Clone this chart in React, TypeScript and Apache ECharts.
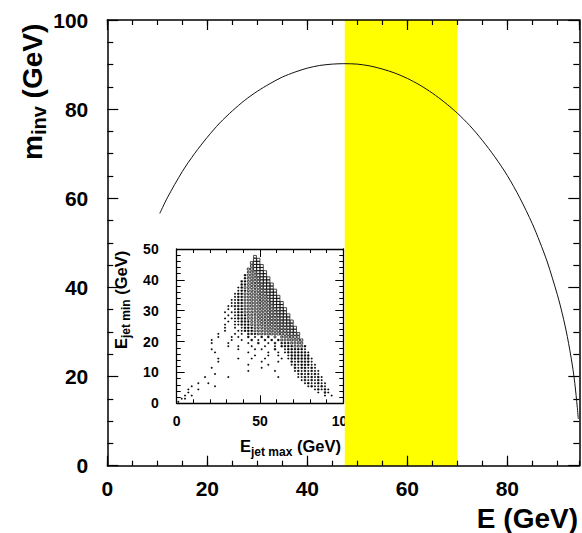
import React, { useEffect, useRef } from 'react';
import * as echarts from 'echarts';

// ---- Main plot: invariant mass vs energy ----
const CURVE_E = [10.5, 12, 15, 17.5, 20, 22.5, 25, 27.5, 30, 32.5, 35, 37.5, 40, 42.5, 45, 47.3, 50, 52.5, 55, 57.5, 60, 62.5, 65, 67.5, 70, 72.5, 75, 77.5, 80, 82.5, 85, 86.5, 88, 90, 91, 92, 93, 93.5, 94, 94.2];
const CURVE_M = [56.6, 60.1, 66.0, 70.1, 73.7, 76.9, 79.6, 82.0, 84.0, 85.7, 87.2, 88.3, 89.2, 89.8, 90.1, 90.2, 90.1, 89.7, 89.0, 88.1, 86.9, 85.4, 83.6, 81.5, 79.1, 76.3, 73.0, 69.3, 65.1, 60.1, 54.3, 50.2, 45.7, 38.4, 34.1, 29.0, 22.6, 18.5, 13.1, 10.5];
const BAND = [47.5, 70];
const MAIN_X_RANGE = [0, 94.4];
const MAIN_Y_RANGE = [0, 100];

// ---- Inset: 2D histogram E_jet min vs E_jet max ----
// rows: [E_jet min bin (1 GeV), first E_jet max bin (2 GeV), intensity per bin ('.' = empty)]
const HIST_ROWS: [number, number, string][] = [
  [47, 23, '7'],
  [46, 23, '89'],
  [45, 22, '699'],
  [44, 22, '5899'],
  [43, 21, '45899'],
  [42, 21, '345899'],
  [41, 20, '2445899'],
  [40, 20, '23455899'],
  [39, 19, '223455899'],
  [38, 19, '2234455899'],
  [37, 18, '12334455899'],
  [36, 18, '122334456899'],
  [35, 17, '1223344556899'],
  [34, 17, '12233444556899'],
  [33, 16, '112233445556899'],
  [32, 16, '1122334445566899'],
  [31, 15, '11222334445556899'],
  [30, 15, '1.1223334445556889'],
  [29, 14, '1.11223334445556788'],
  [28, 14, '.1.12223334445566889'],
  [27, 13, '.1.112223334445556788'],
  [26, 13, '..1.112223334445566889'],
  [25, 12, '..1..112223334445566788'],
  [24, 12, '..1..1.12223334445566788'],
  [23, 11, '...1...112223334445566778'],
  [22, 11, '.1....1.1.2223334445566777'],
  [21, 10, '..1...1.1..' + '2.1.2.2.3.3' + '45566'],
  [20, 10, '1.....1..1.' + '.2.1.2.2.23' + '334455'],
  [19, 9, '.1....1.....' + '1..2..1.2.2' + '223334'],
  [18, 9, '......1..1..' + '.1...1..1.2' + '2223332'],
  [17, 8, '..1.......1..' + '..1.1...2..' + '1222221'],
  [16, 8, '...1.........' + '1.....1..1.' + '12222221'],
  [15, 7, '..............' + '..1...1..1.' + '.1222222'],
  [14, 7, '.....1.....1..' + '.1...1....1' + '.12222221'],
  [13, 6, '......1........' + '....1....1.' + '..2122221'],
  [12, 6, '...............' + '1.....1....' + '..12122211'],
  [11, 5, '.....1..........' + '....1......' + '...2122121'],
  [10, 5, '................' + '1.......1..' + '...12121211'],
  [9, 4, '.......1.........' + '...........' + '....1212121'],
  [8, 4, '....1......1.....' + '.........1.' + '....11212121'],
  [7, 3, '..................' + '...........' + '.....1212121'],
  [6, 3, '...1..1...........' + '...........' + '......1211211'],
  [5, 2, '..1......1.........' + '...........' + '.......121121'],
  [4, 2, '.1..1..............' + '...........' + '.........12121'],
  [3, 1, '..1.................' + '...........' + '..........1.21'],
  [2, 1, '.1.1................' + '...........' + '............1.1'],
  [1, 0, '.11'],
  [0, 0, '1'],
];
const HIST_LEVELS = [1, 2, 3, 4, 5, 6, 7, 8, 9];
const INSET_X_RANGE = [0, 100];
const INSET_Y_RANGE = [0, 50];

const FONT = '"Liberation Sans", Arial, Helvetica, sans-serif';

// one path per intensity level: many small boxes drawn into a single shape
echarts.graphic.registerShape(
  'histBoxes',
  echarts.graphic.extendShape({
    shape: { boxes: [] as number[] },
    buildPath(ctx: any, shape: any) {
      const b = shape.boxes as number[];
      for (let i = 0; i < b.length; i += 4) ctx.rect(b[i], b[i + 1], b[i + 2], b[i + 3]);
    },
  }) as any
);

export default function App() {
  const ref = useRef<HTMLDivElement>(null);

  useEffect(() => {
    if (!ref.current) return;
    const chart = echarts.init(ref.current, null, { renderer: 'svg' });

    const curve = CURVE_E.map((e, i) => [e, CURVE_M[i]]);
    const hist: number[][] = [];
    HIST_ROWS.forEach(([yb, xs, s]) => {
      for (let k = 0; k < s.length; k++) {
        const ch = s[k];
        if (ch === '.') continue;
        hist.push([2 * (xs + k) + 1, yb + 0.5, Number(ch)]);
      }
    });

    const black = '#000';
    const mainLine = { show: true, onZero: false, lineStyle: { color: black, width: 1.5 } };
    const mainLabel = { color: black, fontFamily: FONT, fontWeight: 'bold' as const, fontSize: 21 };
    const insetLabel = { color: black, fontFamily: FONT, fontWeight: 'bold' as const, fontSize: 14 };
    const insetLine = { show: true, onZero: false, lineStyle: { color: black, width: 1.3 } };
    const tick = (len: number, w: number) => ({ show: true, inside: true, length: len, lineStyle: { color: black, width: w } });
    const minor = (n: number, len: number, w: number) => ({ show: true, splitNumber: n, length: len, lineStyle: { color: black, width: w } });
    const G = { left: 107.3, top: 20, width: 472, height: 445.7 };
    const I = { left: 176.7, top: 249, width: 166.6, height: 154.3 };

    const tok = (size: number, lh: number, padBottom: number) => ({
      fontFamily: FONT, fontWeight: 'bold', fontSize: size, lineHeight: lh, padding: [0, 0, padBottom, 0], verticalAlign: 'bottom', fill: black, color: black,
    });

    const option: any = {
      animation: false,
      backgroundColor: '#fff',
      title: [
        { text: 'E (GeV)', right: 4, top: 504, padding: 0, textStyle: { fontFamily: FONT, fontWeight: 'bold', fontSize: 28, lineHeight: 28, color: black } },
        {
          text: '{b|E}{s|jet max}{b| (GeV)}', left: 240, top: 440.7, padding: 0,
          textStyle: { rich: { b: tok(16.5, 17, 3), s: tok(12, 12, 0) } },
        },
      ],
      graphic: [
        {
          type: 'text', x: 35, y: 160, rotation: Math.PI / 2, z: 10,
          style: { text: '{b|m}{s|inv}{b| (GeV)}', textAlign: 'left', textVerticalAlign: 'middle', rich: { b: tok(28, 28, 3), s: tok(20, 20, 0) } },
        },
        {
          type: 'text', x: 123.8, y: 349, rotation: Math.PI / 2, z: 10,
          style: { text: '{b|E}{s|jet min}{b| (GeV)}', textAlign: 'left', textVerticalAlign: 'middle', rich: { b: tok(16.5, 17, 3), s: tok(12, 12, 0) } },
        },
      ],
      grid: [{ ...G, containLabel: false }, { ...G, containLabel: false }, { ...I, containLabel: false }],
      xAxis: [
        { gridIndex: 0, type: 'value', position: 'bottom', min: MAIN_X_RANGE[0], max: MAIN_X_RANGE[1], interval: 20, z: 4, axisLine: mainLine, axisTick: tick(10, 1.2), axisLabel: { ...mainLabel, margin: 12, showMaxLabel: false, formatter: (v: number) => (v % 20 === 0 ? String(v) : '') }, splitLine: { show: false } },
        { gridIndex: 0, type: 'value', position: 'top', min: MAIN_X_RANGE[0], max: MAIN_X_RANGE[1], interval: 20, z: 4, axisLine: mainLine, axisTick: tick(10, 1.2), axisLabel: { show: false }, splitLine: { show: false } },
        { gridIndex: 1, type: 'value', position: 'bottom', min: MAIN_X_RANGE[0], max: MAIN_X_RANGE[1], interval: 5, z: 4, axisLine: { show: false, onZero: false }, axisTick: tick(5, 1.2), axisLabel: { show: false }, splitLine: { show: false } },
        { gridIndex: 1, type: 'value', position: 'top', min: MAIN_X_RANGE[0], max: MAIN_X_RANGE[1], interval: 5, z: 4, axisLine: { show: false, onZero: false }, axisTick: tick(5, 1.2), axisLabel: { show: false }, splitLine: { show: false } },
        { gridIndex: 2, type: 'value', position: 'bottom', min: INSET_X_RANGE[0], max: INSET_X_RANGE[1], interval: 50, z: 1, axisLine: insetLine, axisTick: tick(8, 1), minorTick: minor(5, 4, 1), axisLabel: { ...insetLabel, margin: 11 }, splitLine: { show: false }, minorSplitLine: { show: false } },
        { gridIndex: 2, type: 'value', position: 'top', min: INSET_X_RANGE[0], max: INSET_X_RANGE[1], interval: 50, z: 1, axisLine: insetLine, axisTick: tick(8, 1), minorTick: minor(5, 4, 1), axisLabel: { show: false }, splitLine: { show: false }, minorSplitLine: { show: false } },
      ],
      yAxis: [
        { gridIndex: 0, type: 'value', position: 'left', min: MAIN_Y_RANGE[0], max: MAIN_Y_RANGE[1], interval: 20, z: 4, axisLine: mainLine, axisTick: tick(11, 1.2), minorTick: minor(4, 6, 1.2), axisLabel: { ...mainLabel, margin: 19 }, splitLine: { show: false }, minorSplitLine: { show: false } },
        { gridIndex: 0, type: 'value', position: 'right', min: MAIN_Y_RANGE[0], max: MAIN_Y_RANGE[1], interval: 20, z: 4, axisLine: mainLine, axisTick: tick(11, 1.2), minorTick: minor(4, 6, 1.2), axisLabel: { show: false }, splitLine: { show: false }, minorSplitLine: { show: false } },
        { gridIndex: 1, type: 'value', show: false, min: 0, max: 100 },
        { gridIndex: 2, type: 'value', position: 'left', min: INSET_Y_RANGE[0], max: INSET_Y_RANGE[1], interval: 10, z: 1, axisLine: insetLine, axisTick: tick(8, 1), minorTick: minor(5, 4, 1), axisLabel: { ...insetLabel, margin: 18 }, splitLine: { show: false }, minorSplitLine: { show: false } },
        { gridIndex: 2, type: 'value', position: 'right', min: INSET_Y_RANGE[0], max: INSET_Y_RANGE[1], interval: 10, z: 1, axisLine: insetLine, axisTick: tick(8, 1), minorTick: minor(5, 4, 1), axisLabel: { show: false }, splitLine: { show: false }, minorSplitLine: { show: false } },
      ],
      series: [
        {
          type: 'custom', xAxisIndex: 0, yAxisIndex: 0, z: 3, silent: true,
          data: [[BAND[0], BAND[1]]], encode: { x: [0, 1] },
          renderItem: (_p: any, api: any) => {
            const a = api.coord([api.value(0), MAIN_Y_RANGE[1]]);
            const b = api.coord([api.value(1), MAIN_Y_RANGE[0]]);
            return { type: 'rect', shape: { x: a[0], y: a[1], width: b[0] - a[0], height: b[1] - a[1] }, style: { fill: '#ffff00' } };
          },
        },
        {
          type: 'custom', xAxisIndex: 4, yAxisIndex: 3, z: 2, silent: true, clip: false,
          data: HIST_LEVELS.map((l) => [l]),
          renderItem: (params: any, api: any) => {
            const level = HIST_LEVELS[params.dataIndex];
            const f = Math.sqrt(level / 9);
            const w = 3.2 * f;
            const h = 3.0 * f;
            const boxes: number[] = [];
            hist.forEach((d) => {
              if (d[2] !== level) return;
              const c = api.coord([d[0], d[1]]);
              boxes.push(c[0] - w / 2, c[1] - h / 2, w, h);
            });
            return {
              type: 'histBoxes',
              shape: { boxes },
              style: { fill: level <= 2 ? black : 'none', stroke: black, lineWidth: 0.7 },
            };
          },
        },
        {
          type: 'line', xAxisIndex: 0, yAxisIndex: 0, z: 5, silent: true,
          data: curve, showSymbol: false, smooth: 0.3,
          lineStyle: { color: '#111', width: 1 },
        },
      ],
    };

    chart.setOption(option);
    return () => chart.dispose();
  }, []);

  return <div ref={ref} style={{ position: 'absolute', left: 0, top: 0, width: 582, height: 533 }} />;
}
